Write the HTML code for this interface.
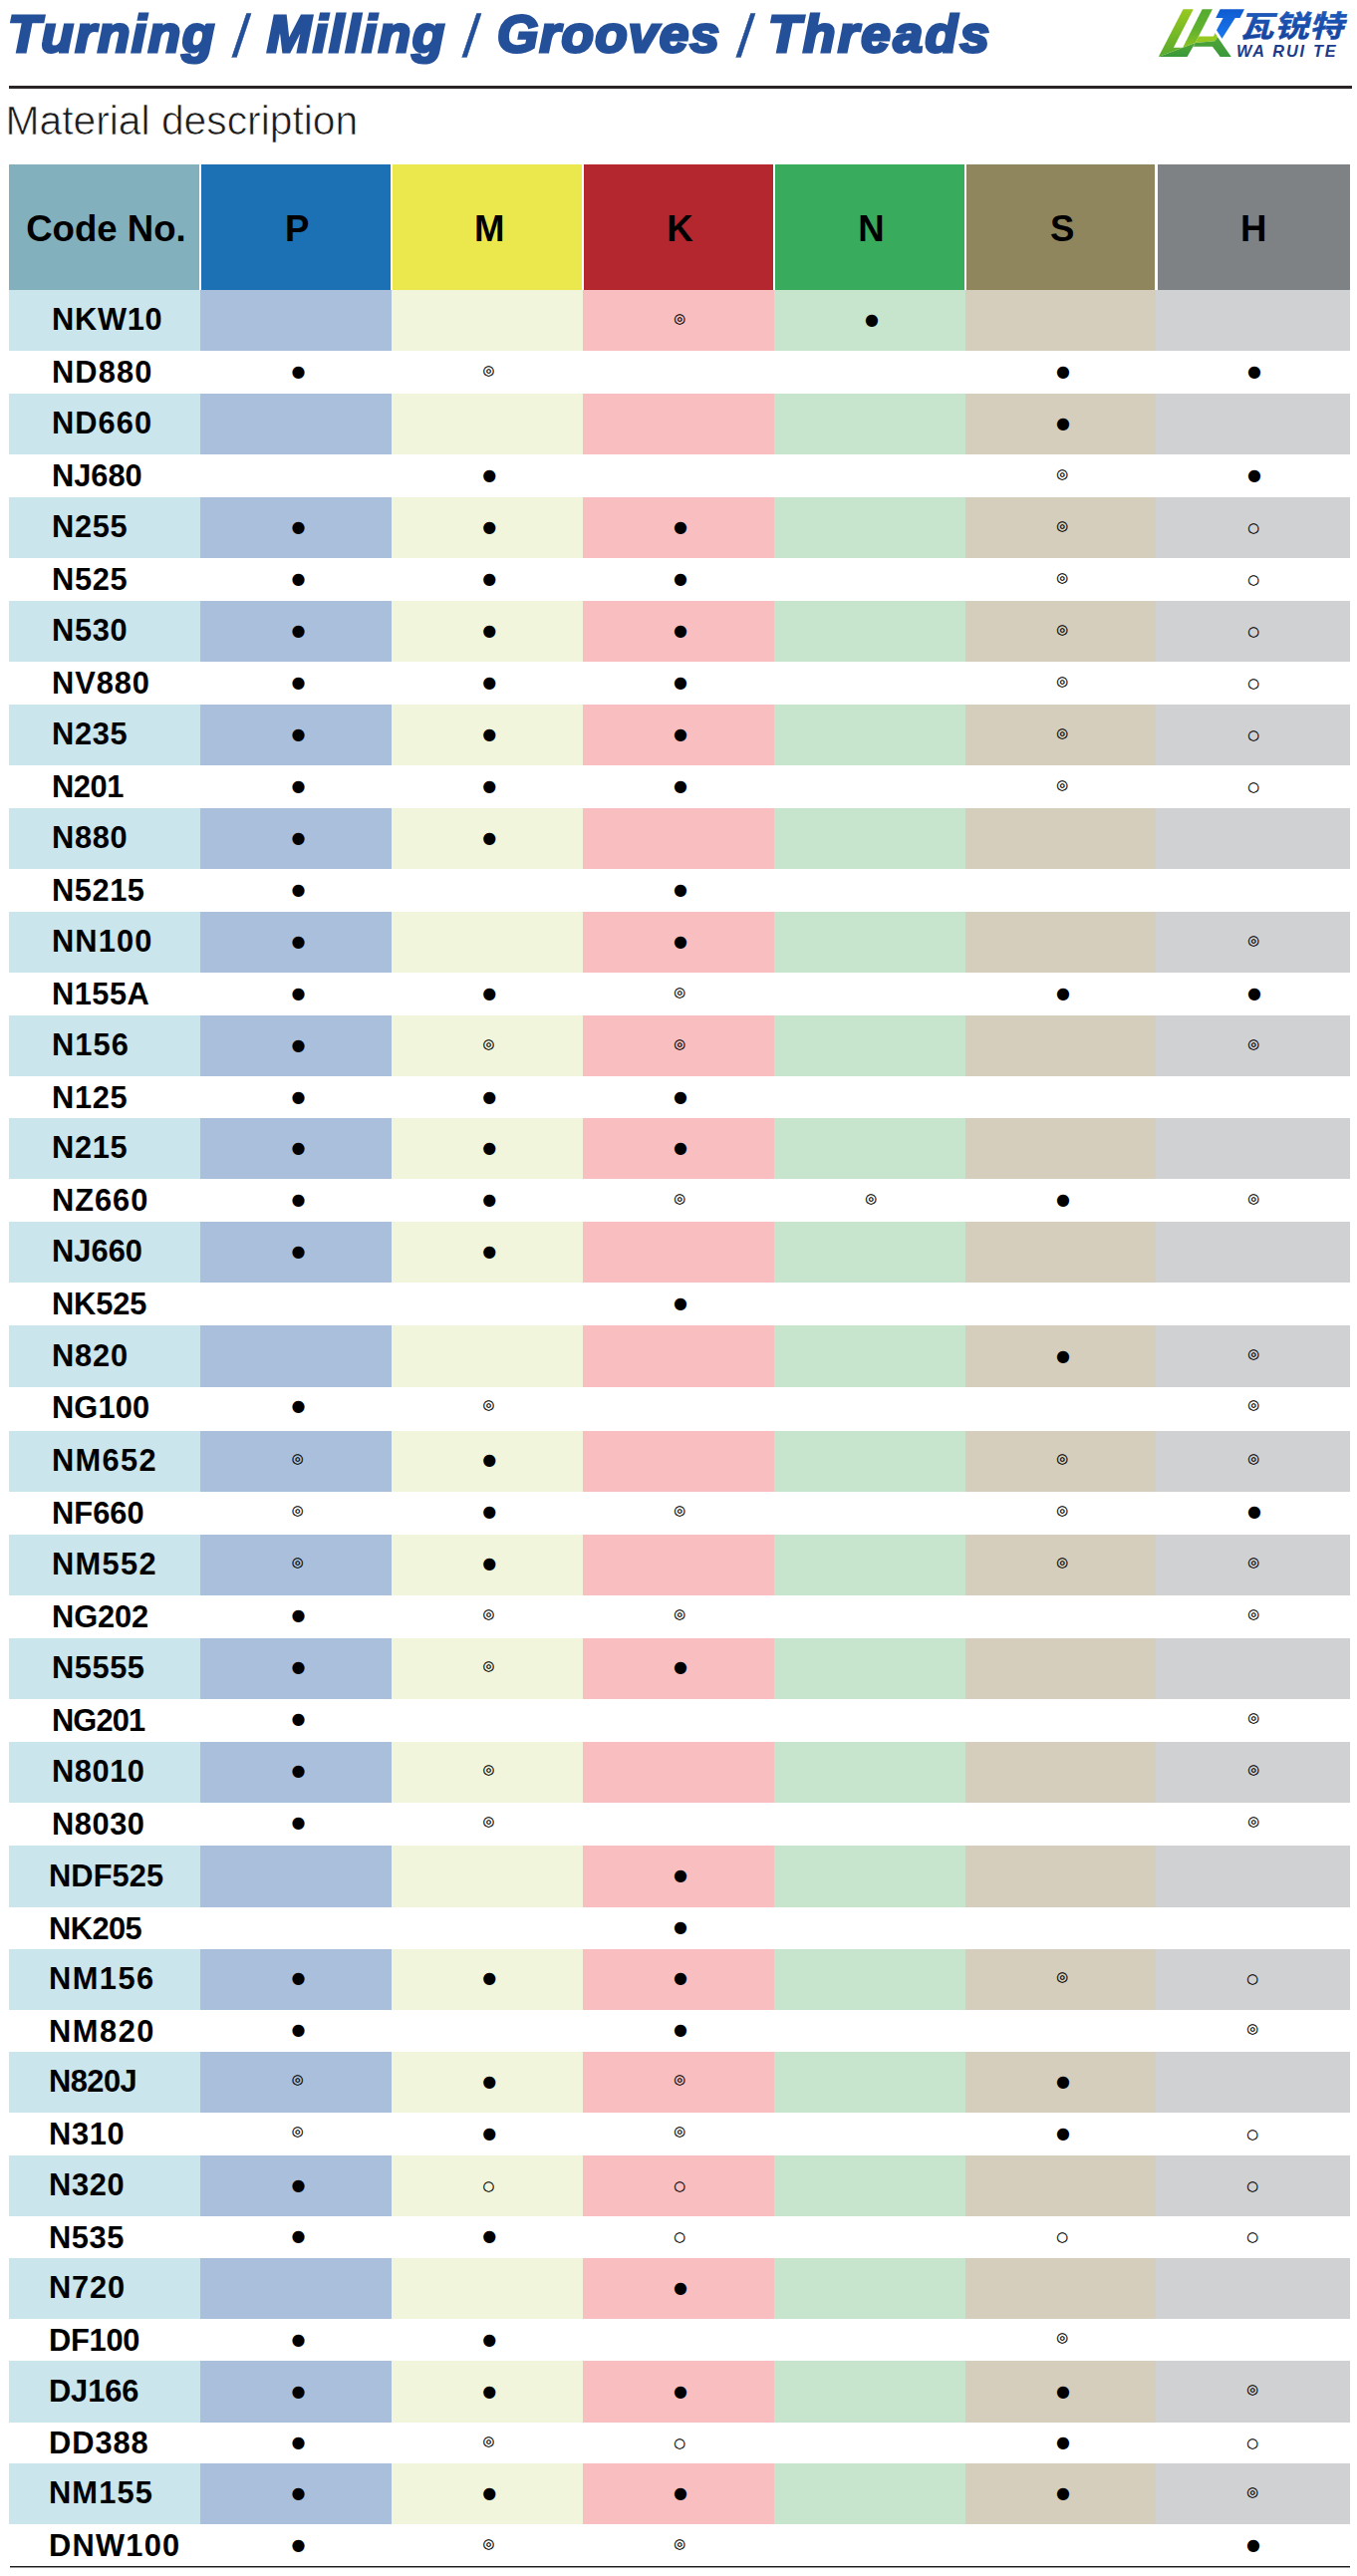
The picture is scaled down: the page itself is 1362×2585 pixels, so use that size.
<!DOCTYPE html>
<html lang="en">
<head>
<meta charset="utf-8">
<title>Turning / Milling / Grooves / Threads - Material description</title>
<style>
html,body{margin:0;padding:0;background:#fff;}
body{width:1362px;height:2585px;position:relative;overflow:hidden;font-family:"Liberation Sans","Noto Sans CJK SC",sans-serif;color:#000;}
h1,h2{margin:0;padding:0;font-weight:normal;}
#title{position:absolute;left:0;top:4.05px;width:1100px;height:70px;font-size:51.5px;line-height:60px;font-weight:bold;font-style:italic;color:#24509a;white-space:nowrap;}
#title span{position:absolute;top:0;-webkit-text-stroke:3px #24509a;transform-origin:0 0;transform:scaleX(1.03);}
#title b{position:absolute;top:2.75px;font-size:60px;font-weight:normal;font-style:normal;-webkit-text-stroke:0.4px #24509a;transform:skewX(-3.5deg);}
#logo{position:absolute;left:1155px;top:0;}
#rule{position:absolute;left:9px;top:86px;width:1348px;height:3px;background:#2a2426;}
#sub{position:absolute;left:5.5px;top:96.5px;font-size:40.8px;line-height:48px;color:#1a1a1a;-webkit-text-stroke:0.7px #fff;white-space:nowrap;}
#grid{position:absolute;left:0;top:0;width:1362px;height:2585px;}
.hc{position:absolute;top:165px;height:126px;line-height:126px;text-align:center;font-weight:bold;font-size:36.6px;white-space:nowrap;}
.hc span{position:relative;top:1.8px;}
.row{position:absolute;left:0;width:1362px;}
.row i{position:absolute;top:0;height:100%;}
.row i.c0{left:9px;width:192px;background:#cae5ec;}
.row i.c1{left:201px;width:192px;background:#a9bfdb;}
.row i.c2{left:393px;width:192px;background:#f1f5db;}
.row i.c3{left:585px;width:192px;background:#f9bebf;}
.row i.c4{left:777px;width:192px;background:#c7e5cc;}
.row i.c5{left:969px;width:191px;background:#d5cebc;}
.row i.c6{left:1160px;width:195px;background:#d0d1d3;}
.lab{position:absolute;left:52px;font-weight:bold;font-size:30.8px;line-height:34px;height:34px;white-space:nowrap;}
.lo .lab{left:49px;}
.row b{position:absolute;width:24px;height:24px;margin:-12px 0 0 -12px;line-height:24px;text-align:center;font-family:"DejaVu Sans",sans-serif;font-weight:normal;color:#000;}
.row b.f{font-size:16px;}
.row b.d,.row b.o{font-size:13.5px;-webkit-text-stroke:0.25px #000;}
#botrule{position:absolute;left:10px;top:2575px;width:1345px;height:1px;background:#1c1c1c;box-shadow:0 1px 0 rgba(0,0,0,0.4);}
</style>
</head>
<body>
<h1 id="title"><span style="left:8.0px;letter-spacing:1.75px">Turning</span> <b style="left:234.0px">/</b> <span style="left:268.2px;letter-spacing:1.65px">Milling</span> <b style="left:465.0px">/</b> <span style="left:498.6px;letter-spacing:1.25px">Grooves</span> <b style="left:739.5px">/</b> <span style="left:771.0px;letter-spacing:2.55px">Threads</span></h1>
<svg id="logo" width="207" height="70" viewBox="1155 0 207 70" role="img" aria-label="WA RUI TE logo">
<defs>
<linearGradient id="g1" x1="0" y1="0" x2="0" y2="1"><stop offset="0" stop-color="#97c91f"/><stop offset="1" stop-color="#58a92f"/></linearGradient>
<linearGradient id="g2" x1="0" y1="0" x2="0" y2="1"><stop offset="0" stop-color="#55ab31"/><stop offset="0.55" stop-color="#62b22e"/><stop offset="1" stop-color="#8cc324"/></linearGradient>
<linearGradient id="g3" x1="0" y1="0" x2="0" y2="1"><stop offset="0" stop-color="#0f5bd0"/><stop offset="1" stop-color="#1a78f0"/></linearGradient>
<linearGradient id="g5" x1="0" y1="0" x2="0" y2="1"><stop offset="0" stop-color="#4fa636"/><stop offset="1" stop-color="#3a983b"/></linearGradient>
<linearGradient id="g4" x1="0" y1="0" x2="0" y2="1"><stop offset="0" stop-color="#1d5cc0"/><stop offset="1" stop-color="#153f95"/></linearGradient>
</defs>
<polygon fill="url(#g5)" points="1187.11,47.85 1199.64,43.06 1191.53,57.06 1162.79,57.06"/>
<polygon fill="url(#g2)" points="1206.64,9.16 1216.95,9.16 1199.64,43.06 1187.11,47.85"/>
<polygon fill="url(#g1)" points="1187.48,9.16 1197.79,9.16 1177.9,47.85 1187.11,47.85 1162.79,57.06"/>
<polygon fill="#96c920" points="1202.95,36.42 1218.06,36.42 1219.53,33.11 1222.11,37.16 1219.16,41.21 1199.64,43.06"/>
<polygon fill="url(#g5)" points="1199.64,43.06 1219.16,41.21 1222.11,37.16 1235.74,57.06 1224.69,57.06 1216.95,46.74 1197.79,46.74"/>
<polygon fill="url(#g3)" points="1224.6,9.2 1249,9.2 1244.5,18.1 1239.7,18.1 1226.5,38.7 1221,30.2 1227.6,18.1 1220.2,18.1"/>
<text x="0" y="0" transform="translate(1244.1,37.2) skewX(-14) scale(1.15,1)" font-family="'Liberation Sans','Noto Sans CJK SC',sans-serif" font-weight="700" font-size="30" stroke="#1a4fae" stroke-width="0.5" fill="url(#g4)" letter-spacing="0.5">瓦锐特</text>
<text x="0" y="0" transform="translate(1241,56.6)" font-family="'Liberation Sans',sans-serif" font-weight="bold" font-style="italic" font-size="16.3" fill="#1a3c8a" letter-spacing="1.8" word-spacing="0.8">WA RUI TE</text>
</svg>
<div id="rule"></div>
<h2 id="sub">Material description</h2>
<div id="grid">
<div class="thead">
<div class="hc" style="left:9px;width:191px;background:#82b0bc"><span style="left:1.9px">Code No.</span></div>
<div class="hc" style="left:202px;width:190px;background:#1c70b4"><span style="left:1.1px">P</span></div>
<div class="hc" style="left:394px;width:190px;background:#ebe84e"><span style="left:2.2px">M</span></div>
<div class="hc" style="left:586px;width:190px;background:#b5272f"><span style="left:1.5px">K</span></div>
<div class="hc" style="left:778px;width:190px;background:#38ac5c"><span style="left:1.5px">N</span></div>
<div class="hc" style="left:970px;width:189px;background:#90865e"><span style="left:1.7px">S</span></div>
<div class="hc" style="left:1162px;width:193px;background:#7f8285"><span style="left:-0.3px">H</span></div>
</div>
<div class="row sh" style="top:291px;height:61px"><i class="c0"></i><i class="c1"></i><i class="c2"></i><i class="c3"></i><i class="c4"></i><i class="c5"></i><i class="c6"></i><div class="lab" style="top:13.0px;letter-spacing:0.72px">NKW10</div><b class="d" style="left:682.2px;top:28px">◎</b><b class="f" style="left:875.0px;top:30px">●</b></div>
<div class="row" style="top:352px;height:43px"><div class="lab" style="top:5.0px;letter-spacing:1.10px">ND880</div><b class="f" style="left:299.5px;top:21px">●</b><b class="d" style="left:490.4px;top:19px">◎</b><b class="f" style="left:1067.0px;top:21px">●</b><b class="f" style="left:1259.0px;top:21px">●</b></div>
<div class="row sh" style="top:395px;height:61px"><i class="c0"></i><i class="c1"></i><i class="c2"></i><i class="c3"></i><i class="c4"></i><i class="c5"></i><i class="c6"></i><div class="lab" style="top:13.0px;letter-spacing:1.04px">ND660</div><b class="f" style="left:1067.0px;top:30px">●</b></div>
<div class="row" style="top:456px;height:43px"><div class="lab" style="top:5.0px;letter-spacing:-0.00px">NJ680</div><b class="f" style="left:491.2px;top:21px">●</b><b class="d" style="left:1066.2px;top:19px">◎</b><b class="f" style="left:1259.0px;top:21px">●</b></div>
<div class="row sh" style="top:499px;height:61px"><i class="c0"></i><i class="c1"></i><i class="c2"></i><i class="c3"></i><i class="c4"></i><i class="c5"></i><i class="c6"></i><div class="lab" style="top:13.0px;letter-spacing:0.66px">N255</div><b class="f" style="left:299.5px;top:30px">●</b><b class="f" style="left:491.2px;top:30px">●</b><b class="f" style="left:683.0px;top:30px">●</b><b class="d" style="left:1066.2px;top:28px">◎</b><b class="o" style="left:1258.2px;top:30px">○</b></div>
<div class="row" style="top:560px;height:43px"><div class="lab" style="top:5.0px;letter-spacing:0.66px">N525</div><b class="f" style="left:299.5px;top:21px">●</b><b class="f" style="left:491.2px;top:21px">●</b><b class="f" style="left:683.0px;top:21px">●</b><b class="d" style="left:1066.2px;top:19px">◎</b><b class="o" style="left:1258.2px;top:21px">○</b></div>
<div class="row sh" style="top:603px;height:61px"><i class="c0"></i><i class="c1"></i><i class="c2"></i><i class="c3"></i><i class="c4"></i><i class="c5"></i><i class="c6"></i><div class="lab" style="top:13.0px;letter-spacing:0.66px">N530</div><b class="f" style="left:299.5px;top:30px">●</b><b class="f" style="left:491.2px;top:30px">●</b><b class="f" style="left:683.0px;top:30px">●</b><b class="d" style="left:1066.2px;top:28px">◎</b><b class="o" style="left:1258.2px;top:30px">○</b></div>
<div class="row" style="top:664px;height:43px"><div class="lab" style="top:5.0px;letter-spacing:0.95px">NV880</div><b class="f" style="left:299.5px;top:21px">●</b><b class="f" style="left:491.2px;top:21px">●</b><b class="f" style="left:683.0px;top:21px">●</b><b class="d" style="left:1066.2px;top:19px">◎</b><b class="o" style="left:1258.2px;top:21px">○</b></div>
<div class="row sh" style="top:707px;height:61px"><i class="c0"></i><i class="c1"></i><i class="c2"></i><i class="c3"></i><i class="c4"></i><i class="c5"></i><i class="c6"></i><div class="lab" style="top:13.0px;letter-spacing:0.66px">N235</div><b class="f" style="left:299.5px;top:30px">●</b><b class="f" style="left:491.2px;top:30px">●</b><b class="f" style="left:683.0px;top:30px">●</b><b class="d" style="left:1066.2px;top:28px">◎</b><b class="o" style="left:1258.2px;top:30px">○</b></div>
<div class="row" style="top:768px;height:43px"><div class="lab" style="top:5.0px;letter-spacing:-0.41px">N201</div><b class="f" style="left:299.5px;top:21px">●</b><b class="f" style="left:491.2px;top:21px">●</b><b class="f" style="left:683.0px;top:21px">●</b><b class="d" style="left:1066.2px;top:19px">◎</b><b class="o" style="left:1258.2px;top:21px">○</b></div>
<div class="row sh" style="top:811px;height:61px"><i class="c0"></i><i class="c1"></i><i class="c2"></i><i class="c3"></i><i class="c4"></i><i class="c5"></i><i class="c6"></i><div class="lab" style="top:13.0px;letter-spacing:0.66px">N880</div><b class="f" style="left:299.5px;top:30px">●</b><b class="f" style="left:491.2px;top:30px">●</b></div>
<div class="row" style="top:872px;height:43px"><div class="lab" style="top:5.0px;letter-spacing:0.55px">N5215</div><b class="f" style="left:299.5px;top:21px">●</b><b class="f" style="left:683.0px;top:21px">●</b></div>
<div class="row sh" style="top:915px;height:61px"><i class="c0"></i><i class="c1"></i><i class="c2"></i><i class="c3"></i><i class="c4"></i><i class="c5"></i><i class="c6"></i><div class="lab" style="top:13.0px;letter-spacing:1.10px">NN100</div><b class="f" style="left:299.5px;top:30px">●</b><b class="f" style="left:683.0px;top:30px">●</b><b class="d" style="left:1258.2px;top:28px">◎</b></div>
<div class="row" style="top:976px;height:43px"><div class="lab" style="top:5.0px;letter-spacing:0.48px">N155A</div><b class="f" style="left:299.5px;top:21px">●</b><b class="f" style="left:491.2px;top:21px">●</b><b class="d" style="left:682.2px;top:19px">◎</b><b class="f" style="left:1067.0px;top:21px">●</b><b class="f" style="left:1259.0px;top:21px">●</b></div>
<div class="row sh" style="top:1019px;height:61px"><i class="c0"></i><i class="c1"></i><i class="c2"></i><i class="c3"></i><i class="c4"></i><i class="c5"></i><i class="c6"></i><div class="lab" style="top:13.0px;letter-spacing:1.08px">N156</div><b class="f" style="left:299.5px;top:30px">●</b><b class="d" style="left:490.4px;top:28px">◎</b><b class="d" style="left:682.2px;top:28px">◎</b><b class="d" style="left:1258.2px;top:28px">◎</b></div>
<div class="row" style="top:1080px;height:42px"><div class="lab" style="top:4.5px;letter-spacing:0.66px">N125</div><b class="f" style="left:299.5px;top:21px">●</b><b class="f" style="left:491.2px;top:21px">●</b><b class="f" style="left:683.0px;top:21px">●</b></div>
<div class="row sh" style="top:1122px;height:61px"><i class="c0"></i><i class="c1"></i><i class="c2"></i><i class="c3"></i><i class="c4"></i><i class="c5"></i><i class="c6"></i><div class="lab" style="top:13.0px;letter-spacing:0.66px">N215</div><b class="f" style="left:299.5px;top:30px">●</b><b class="f" style="left:491.2px;top:30px">●</b><b class="f" style="left:683.0px;top:30px">●</b></div>
<div class="row" style="top:1183px;height:43px"><div class="lab" style="top:5.0px;letter-spacing:0.98px">NZ660</div><b class="f" style="left:299.5px;top:21px">●</b><b class="f" style="left:491.2px;top:21px">●</b><b class="d" style="left:682.2px;top:19px">◎</b><b class="d" style="left:874.2px;top:19px">◎</b><b class="f" style="left:1067.0px;top:21px">●</b><b class="d" style="left:1258.2px;top:19px">◎</b></div>
<div class="row sh" style="top:1226px;height:61px"><i class="c0"></i><i class="c1"></i><i class="c2"></i><i class="c3"></i><i class="c4"></i><i class="c5"></i><i class="c6"></i><div class="lab" style="top:13.0px;letter-spacing:0.05px">NJ660</div><b class="f" style="left:299.5px;top:30px">●</b><b class="f" style="left:491.2px;top:30px">●</b></div>
<div class="row" style="top:1287px;height:43px"><div class="lab" style="top:5.0px;letter-spacing:-0.13px">NK525</div><b class="f" style="left:683.0px;top:21px">●</b></div>
<div class="row sh" style="top:1330px;height:62px"><i class="c0"></i><i class="c1"></i><i class="c2"></i><i class="c3"></i><i class="c4"></i><i class="c5"></i><i class="c6"></i><div class="lab" style="top:13.5px;letter-spacing:0.80px">N820</div><b class="f" style="left:1067.0px;top:31px">●</b><b class="d" style="left:1258.2px;top:28px">◎</b></div>
<div class="row" style="top:1392px;height:44px"><div class="lab" style="top:4.2px;letter-spacing:0.12px">NG100</div><b class="f" style="left:299.5px;top:19px">●</b><b class="d" style="left:490.4px;top:17px">◎</b><b class="d" style="left:1258.2px;top:17px">◎</b></div>
<div class="row sh" style="top:1436px;height:61px"><i class="c0"></i><i class="c1"></i><i class="c2"></i><i class="c3"></i><i class="c4"></i><i class="c5"></i><i class="c6"></i><div class="lab" style="top:13.0px;letter-spacing:1.35px">NM652</div><b class="d" style="left:298.7px;top:27px">◎</b><b class="f" style="left:491.2px;top:29px">●</b><b class="d" style="left:1066.2px;top:27px">◎</b><b class="d" style="left:1258.2px;top:27px">◎</b></div>
<div class="row" style="top:1497px;height:43px"><div class="lab" style="top:5.0px;letter-spacing:0.05px">NF660</div><b class="d" style="left:298.7px;top:18px">◎</b><b class="f" style="left:491.2px;top:20px">●</b><b class="d" style="left:682.2px;top:18px">◎</b><b class="d" style="left:1066.2px;top:18px">◎</b><b class="f" style="left:1259.0px;top:20px">●</b></div>
<div class="row sh" style="top:1540px;height:61px"><i class="c0"></i><i class="c1"></i><i class="c2"></i><i class="c3"></i><i class="c4"></i><i class="c5"></i><i class="c6"></i><div class="lab" style="top:13.0px;letter-spacing:1.35px">NM552</div><b class="d" style="left:298.7px;top:27px">◎</b><b class="f" style="left:491.2px;top:29px">●</b><b class="d" style="left:1066.2px;top:27px">◎</b><b class="d" style="left:1258.2px;top:27px">◎</b></div>
<div class="row" style="top:1601px;height:43px"><div class="lab" style="top:5.0px;letter-spacing:-0.10px">NG202</div><b class="f" style="left:299.5px;top:20px">●</b><b class="d" style="left:490.4px;top:18px">◎</b><b class="d" style="left:682.2px;top:18px">◎</b><b class="d" style="left:1258.2px;top:18px">◎</b></div>
<div class="row sh" style="top:1644px;height:61px"><i class="c0"></i><i class="c1"></i><i class="c2"></i><i class="c3"></i><i class="c4"></i><i class="c5"></i><i class="c6"></i><div class="lab" style="top:13.0px;letter-spacing:0.55px">N5555</div><b class="f" style="left:299.5px;top:29px">●</b><b class="d" style="left:490.4px;top:27px">◎</b><b class="f" style="left:683.0px;top:29px">●</b></div>
<div class="row" style="top:1705px;height:43px"><div class="lab" style="top:5.0px;letter-spacing:-0.87px">NG201</div><b class="f" style="left:299.5px;top:20px">●</b><b class="d" style="left:1258.2px;top:18px">◎</b></div>
<div class="row sh" style="top:1748px;height:61px"><i class="c0"></i><i class="c1"></i><i class="c2"></i><i class="c3"></i><i class="c4"></i><i class="c5"></i><i class="c6"></i><div class="lab" style="top:13.0px;letter-spacing:0.56px">N8010</div><b class="f" style="left:299.5px;top:29px">●</b><b class="d" style="left:490.4px;top:27px">◎</b><b class="d" style="left:1258.2px;top:27px">◎</b></div>
<div class="row" style="top:1809px;height:43px"><div class="lab" style="top:5.0px;letter-spacing:0.56px">N8030</div><b class="f" style="left:299.5px;top:20px">●</b><b class="d" style="left:490.4px;top:18px">◎</b><b class="d" style="left:1258.2px;top:18px">◎</b></div>
<div class="row sh lo" style="top:1852px;height:62px"><i class="c0"></i><i class="c1"></i><i class="c2"></i><i class="c3"></i><i class="c4"></i><i class="c5"></i><i class="c6"></i><div class="lab" style="top:13.5px;letter-spacing:0.08px">NDF525</div><b class="f" style="left:683.0px;top:30px">●</b></div>
<div class="row lo" style="top:1914px;height:42px"><div class="lab" style="top:4.5px;letter-spacing:-0.53px">NK205</div><b class="f" style="left:683.0px;top:20px">●</b></div>
<div class="row sh lo" style="top:1956px;height:61px"><i class="c0"></i><i class="c1"></i><i class="c2"></i><i class="c3"></i><i class="c4"></i><i class="c5"></i><i class="c6"></i><div class="lab" style="top:13.0px;letter-spacing:1.47px">NM156</div><b class="f" style="left:299.5px;top:29px">●</b><b class="f" style="left:491.2px;top:29px">●</b><b class="f" style="left:683.0px;top:29px">●</b><b class="d" style="left:1066.2px;top:27px">◎</b><b class="o" style="left:1257.2px;top:29px">○</b></div>
<div class="row lo" style="top:2017px;height:42px"><div class="lab" style="top:4.5px;letter-spacing:1.54px">NM820</div><b class="f" style="left:299.5px;top:20px">●</b><b class="f" style="left:683.0px;top:20px">●</b><b class="d" style="left:1257.2px;top:18px">◎</b></div>
<div class="row sh lo" style="top:2059px;height:61px"><i class="c0"></i><i class="c1"></i><i class="c2"></i><i class="c3"></i><i class="c4"></i><i class="c5"></i><i class="c6"></i><div class="lab" style="top:13.0px;letter-spacing:-0.52px">N820J</div><b class="d" style="left:298.7px;top:27px">◎</b><b class="f" style="left:491.2px;top:30px">●</b><b class="d" style="left:682.2px;top:27px">◎</b><b class="f" style="left:1067.0px;top:30px">●</b></div>
<div class="row lo" style="top:2120px;height:43px"><div class="lab" style="top:5.0px;letter-spacing:0.67px">N310</div><b class="d" style="left:298.7px;top:18px">◎</b><b class="f" style="left:491.2px;top:21px">●</b><b class="d" style="left:682.2px;top:18px">◎</b><b class="f" style="left:1067.0px;top:21px">●</b><b class="o" style="left:1257.2px;top:21px">○</b></div>
<div class="row sh lo" style="top:2163px;height:61px"><i class="c0"></i><i class="c1"></i><i class="c2"></i><i class="c3"></i><i class="c4"></i><i class="c5"></i><i class="c6"></i><div class="lab" style="top:13.0px;letter-spacing:0.67px">N320</div><b class="f" style="left:299.5px;top:30px">●</b><b class="o" style="left:490.4px;top:30px">○</b><b class="o" style="left:682.2px;top:30px">○</b><b class="o" style="left:1257.2px;top:30px">○</b></div>
<div class="row lo" style="top:2224px;height:42px"><div class="lab" style="top:4.5px;letter-spacing:0.60px">N535</div><b class="f" style="left:299.5px;top:20px">●</b><b class="f" style="left:491.2px;top:20px">●</b><b class="o" style="left:682.2px;top:20px">○</b><b class="o" style="left:1066.2px;top:20px">○</b><b class="o" style="left:1257.2px;top:20px">○</b></div>
<div class="row sh lo" style="top:2266px;height:61px"><i class="c0"></i><i class="c1"></i><i class="c2"></i><i class="c3"></i><i class="c4"></i><i class="c5"></i><i class="c6"></i><div class="lab" style="top:13.0px;letter-spacing:0.86px">N720</div><b class="f" style="left:683.0px;top:30px">●</b></div>
<div class="row lo" style="top:2327px;height:42px"><div class="lab" style="top:4.5px;letter-spacing:-0.25px">DF100</div><b class="f" style="left:299.5px;top:21px">●</b><b class="f" style="left:491.2px;top:21px">●</b><b class="d" style="left:1066.2px;top:18px">◎</b></div>
<div class="row sh lo" style="top:2369px;height:62px"><i class="c0"></i><i class="c1"></i><i class="c2"></i><i class="c3"></i><i class="c4"></i><i class="c5"></i><i class="c6"></i><div class="lab" style="top:13.5px;letter-spacing:-0.12px">DJ166</div><b class="f" style="left:299.5px;top:31px">●</b><b class="f" style="left:491.2px;top:31px">●</b><b class="f" style="left:683.0px;top:31px">●</b><b class="f" style="left:1067.0px;top:31px">●</b><b class="d" style="left:1257.2px;top:28px">◎</b></div>
<div class="row lo" style="top:2431px;height:41px"><div class="lab" style="top:4.0px;letter-spacing:0.97px">DD388</div><b class="f" style="left:299.5px;top:20px">●</b><b class="d" style="left:490.4px;top:18px">◎</b><b class="o" style="left:682.2px;top:20px">○</b><b class="f" style="left:1067.0px;top:20px">●</b><b class="o" style="left:1257.2px;top:20px">○</b></div>
<div class="row sh lo" style="top:2472px;height:61px"><i class="c0"></i><i class="c1"></i><i class="c2"></i><i class="c3"></i><i class="c4"></i><i class="c5"></i><i class="c6"></i><div class="lab" style="top:13.0px;letter-spacing:1.13px">NM155</div><b class="f" style="left:299.5px;top:30px">●</b><b class="f" style="left:491.2px;top:30px">●</b><b class="f" style="left:683.0px;top:30px">●</b><b class="f" style="left:1067.0px;top:30px">●</b><b class="d" style="left:1257.2px;top:28px">◎</b></div>
<div class="row lo" style="top:2533px;height:43px"><div class="lab" style="top:5.0px;letter-spacing:1.24px">DNW100</div><b class="f" style="left:299.5px;top:21px">●</b><b class="d" style="left:490.4px;top:19px">◎</b><b class="d" style="left:682.2px;top:19px">◎</b><b class="f" style="left:1258.0px;top:21px">●</b></div>
</div>
<div id="botrule"></div>
</body>
</html>
